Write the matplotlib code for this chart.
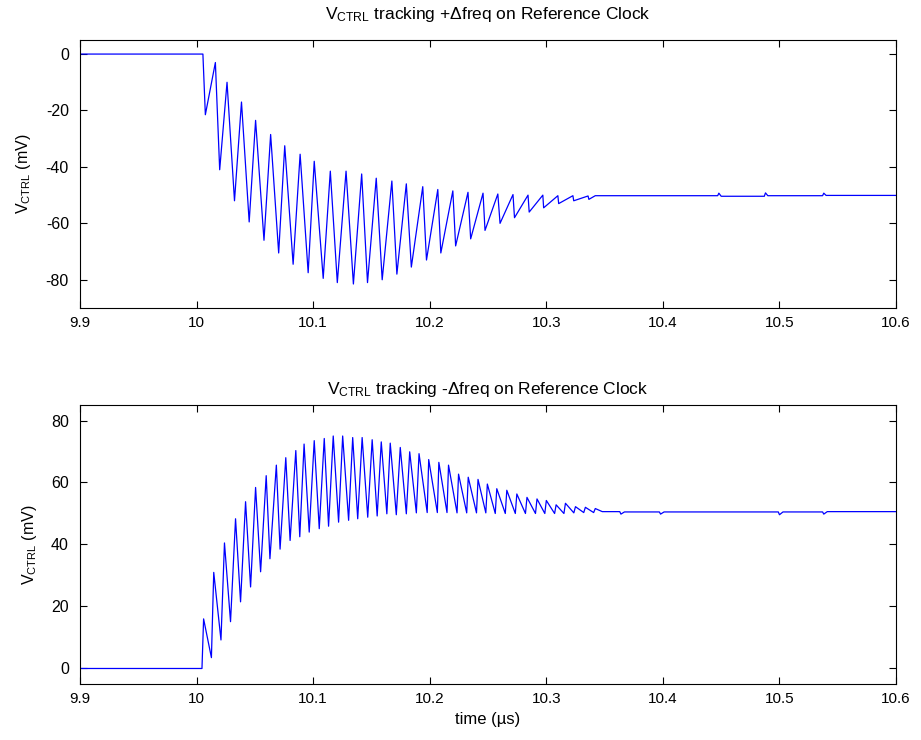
import matplotlib
matplotlib.use("Agg")
import matplotlib.pyplot as plt
import numpy as np

plt.rcParams['font.family'] = ['Liberation Sans', 'DejaVu Sans']
plt.rcParams['mathtext.default'] = 'regular'
plt.rcParams['axes.unicode_minus'] = False
plt.rcParams['font.size'] = 10.5

# ---------------- data (time in us, value in mV) ----------------
x_ticks = [9.9, 10.0, 10.1, 10.2, 10.3, 10.4, 10.5, 10.6]
top_yticks = [0, -20, -40, -60, -80]
bot_yticks = [0, 20, 40, 60, 80]

top_start_t = 10.0054
top_peak_t = [10.0161, 10.0261, 10.0385, 10.0506, 10.0635, 10.0756, 10.0888, 10.1009,
              10.1147, 10.1282, 10.1416, 10.1541, 10.1675, 10.1799, 10.1940, 10.2069,
              10.2198, 10.2328, 10.2457, 10.2584, 10.2714, 10.2843, 10.2970, 10.3099,
              10.3228, 10.3358]
top_peak_v = [-3, -10, -17, -23.5, -28.5, -32.5, -35.5, -38, -41.5, -41.5, -42.5, -44,
              -45, -46, -47, -48, -48.5, -49, -49.3, -49.6, -49.8, -50, -50, -50.2,
              -50.2, -50.3]
top_trough_t = [10.0075, 10.0198, 10.0325, 10.0451, 10.0578, 10.0704, 10.0828, 10.0957,
                10.1086, 10.1207, 10.1345, 10.1466, 10.1592, 10.1718, 10.1842, 10.1972,
                10.2095, 10.2222, 10.2351, 10.2474, 10.2603, 10.2727, 10.2853, 10.2977,
                10.3106, 10.3235, 10.3365]
top_trough_v = [-21.5, -41, -52, -59.5, -66, -70.5, -74.5, -77.5, -79.5, -81, -81.5, -81,
                -80, -78, -75.5, -73, -70.5, -68, -65.5, -62.5, -60, -58, -56, -54.5,
                -53, -52, -51.5]
# settled tail with small glitches
top_tail_t = [10.3420, 10.4470, 10.4480, 10.4500, 10.4870, 10.4880, 10.4900,
              10.5370, 10.5380, 10.5400, 10.6000]
top_tail_v = [-50.2, -50.2, -49.3, -50.4, -50.4, -49.2, -50.2, -50.2, -49.3, -50.1, -50.1]

bot_start_t = 10.0046
bot_peak_t = [10.0060, 10.0147, 10.0239, 10.0334, 10.0420, 10.0506, 10.0597, 10.0684,
              10.0765, 10.0851, 10.0922, 10.1009, 10.1095, 10.1172, 10.1253, 10.1339,
              10.1420, 10.1506, 10.1584, 10.1661, 10.1747, 10.1828, 10.1908, 10.1991,
              10.2078, 10.2161, 10.2247, 10.2330, 10.2414, 10.2494, 10.2575, 10.2661,
              10.2747, 10.2834, 10.2920, 10.3000, 10.3084, 10.3164, 10.3250, 10.3335,
              10.3420]
bot_peak_v = [16, 31, 40.5, 48.3, 53.8, 58.4, 62.2, 65.6, 68, 70.3, 72.4, 73.5, 74.2, 75,
              75, 74.5, 74.5, 73.8, 73.1, 72.7, 71.3, 69.9, 69.3, 67.4, 66.5, 65.6, 62.7,
              61.7, 61, 59.5, 58, 57.5, 56.3, 55.2, 54.7, 54.2, 52.8, 53.3, 52.2, 52.0,
              51.6]
bot_trough_t = [10.0127, 10.0209, 10.0291, 10.0377, 10.0463, 10.0549, 10.0629, 10.0716,
                10.0802, 10.0885, 10.0966, 10.1052, 10.1132, 10.1218, 10.1304, 10.1382,
                10.1468, 10.1549, 10.1632, 10.1713, 10.1799, 10.1885, 10.1978, 10.2065,
                10.2148, 10.2234, 10.2317, 10.2401, 10.2481, 10.2562, 10.2648, 10.2734,
                10.2821, 10.2907, 10.2987, 10.3071, 10.3151, 10.3236, 10.3321, 10.3406]
bot_trough_v = [3.5, 9.2, 15.1, 21.5, 26.3, 31.2, 35.4, 38.5, 41.3, 42.5, 44, 45.1, 45.9,
                47.2, 47.8, 48.3, 48.8, 49.2, 49.9, 49.6, 49.9, 50.2, 50.3, 50.3, 50.3,
                50.2, 50.2, 50.2, 50.2, 50, 50, 50, 50, 50, 50, 50, 50, 50.2, 50.3, 50.3]
bot_tail_t = [10.3480, 10.3630, 10.3640, 10.3670, 10.3970, 10.3980, 10.4010,
              10.4990, 10.5000, 10.5030, 10.5370, 10.5380, 10.5410, 10.6000]
bot_tail_v = [50.6, 50.6, 49.8, 50.5, 50.5, 49.8, 50.5, 50.5, 49.6, 50.5, 50.5, 49.8,
              50.6, 50.6]


def build(start_t, pk_t, pk_v, tr_t, tr_v, tail_t, tail_v):
    t = np.concatenate([[9.9, start_t], pk_t, tr_t])
    v = np.concatenate([[0.0, 0.0], pk_v, tr_v])
    order = np.argsort(t, kind='stable')
    t, v = t[order], v[order]
    t = np.concatenate([t, tail_t])
    v = np.concatenate([v, tail_v])
    return t, v


fig = plt.figure(figsize=(9.21, 7.40), dpi=100)
ax1 = fig.add_axes([0.0869, 0.5838, 0.886, 0.3622])
ax2 = fig.add_axes([0.0869, 0.0757, 0.886, 0.3770])

t1, v1 = build(top_start_t, top_peak_t, top_peak_v, top_trough_t, top_trough_v,
               top_tail_t, top_tail_v)
t2, v2 = build(bot_start_t, bot_peak_t, bot_peak_v, bot_trough_t, bot_trough_v,
               bot_tail_t, bot_tail_v)

ax1.plot(t1, v1, color='#0000ff', lw=0.9)
ax2.plot(t2, v2, color='#0000ff', lw=0.9)

ax1.set_ylim(-90, 5)
ax2.set_ylim(-5, 85)
ax1.set_yticks(top_yticks)
ax2.set_yticks(bot_yticks)

for ax in (ax1, ax2):
    ax.set_xlim(9.9, 10.6)
    ax.set_xticks(x_ticks)
    ax.set_xticklabels(['9.9', '10', '10.1', '10.2', '10.3', '10.4', '10.5', '10.6'])
    ax.tick_params(direction='in', top=True, right=True, length=5, width=0.8,
                   labelsize=11)
    ax.tick_params(axis='y', pad=8, labelsize=11.5)
    ax.tick_params(axis='x', pad=6)
    for s in ax.spines.values():
        s.set_linewidth(0.8)

ax1.set_title(r'V$_{CTRL}$ tracking +$\Delta$freq on Reference Clock', fontsize=12.5, pad=15)
ax2.set_title(r'V$_{CTRL}$ tracking -$\Delta$freq on Reference Clock', fontsize=12.5, pad=8)
ax1.set_ylabel(r'V$_{CTRL}$ (mV)', fontsize=11.5, labelpad=9)
ax2.set_ylabel(r'V$_{CTRL}$ (mV)', fontsize=11.5, labelpad=9)
ax2.set_xlabel('time (\u00b5s)', fontsize=12)

fig.savefig('out.png', dpi=100)
